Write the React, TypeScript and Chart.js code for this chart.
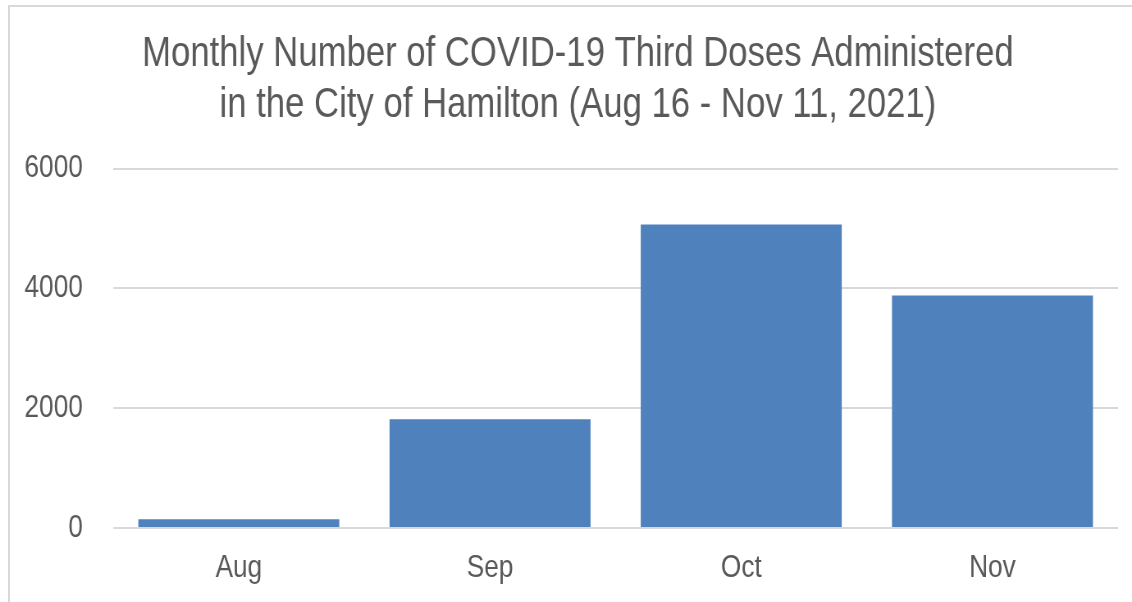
import React, { useEffect, useRef } from "react";
import { Chart, registerables } from "chart.js";

Chart.register(...registerables);

const TITLE_LINES = [
  "Monthly Number of COVID-19 Third Doses Administered",
  "in the City of Hamilton (Aug 16 - Nov 11, 2021)",
];
const MONTHS = ["Aug", "Sep", "Oct", "Nov"];
const DOSES = [145, 1815, 5065, 3880];
const Y_MAX = 6000;
const Y_STEP = 2000;

// Narrow-font emulation: the canvas is drawn wider and shown condensed horizontally
const VIEW_W = 1132;
const VIEW_H = 602;
const NARROW = 0.82;
const CANVAS_W = Math.round(VIEW_W / NARROW);

const FONT = "'Liberation Sans', Arial, sans-serif";
const TEXT = "#595959";
const GRID = "#d9d9d9";
const BAR = "#4f81bd";

export default function App() {
  const ref = useRef<HTMLCanvasElement | null>(null);

  useEffect(() => {
    if (!ref.current) return;
    const k = CANVAS_W / VIEW_W;
    const titleShift = {
      id: "titleShift",
      afterLayout(chart: any) {
        if (chart.titleBlock) chart.titleBlock.left = Math.round(38 * k);
      },
    };
    const chart = new Chart(ref.current, {
      type: "bar",
      data: {
        labels: MONTHS,
        datasets: [
          {
            data: DOSES,
            backgroundColor: BAR,
            borderWidth: 0,
            categoryPercentage: 0.8,
            barPercentage: 1.0,
          },
        ],
      },
      options: {
        responsive: false,
        animation: false,
        devicePixelRatio: 1,
        layout: { padding: { left: 0, right: Math.round(14 * k), top: 0, bottom: 0 } },
        plugins: {
          legend: { display: false },
          tooltip: { enabled: false },
          title: {
            display: true,
            text: TITLE_LINES,
            color: TEXT,
            font: { family: FONT, size: 42.3, weight: "normal", lineHeight: 1.2 },
            padding: { top: 29, bottom: 38 },
          },
        },
        scales: {
          x: {
            grid: { display: false, drawTicks: false },
            border: { display: false },
            ticks: {
              color: TEXT,
              padding: 21,
              font: { family: FONT, size: 32, lineHeight: 1.2 },
            },
            afterFit: (scale: any) => {
              scale.height = 74;
            },
          },
          y: {
            min: 0,
            max: Y_MAX,
            grid: { color: GRID, lineWidth: 2, drawTicks: false },
            border: { display: false },
            ticks: {
              stepSize: Y_STEP,
              color: TEXT,
              padding: Math.round(30 * k),
              font: { family: FONT, size: 32, lineHeight: 1.2 },
              callback: (v: any) => String(v),
            },
            afterFit: (scale: any) => {
              scale.width = Math.round(113 * k);
            },
          },
        },
      },
      plugins: [titleShift],
    });
    return () => chart.destroy();
  }, []);

  return (
    <div
      style={{
        position: "fixed",
        left: 0,
        top: 0,
        width: VIEW_W,
        height: VIEW_H,
        background: "#fff",
        overflow: "hidden",
      }}
    >
      <div
        style={{
          position: "absolute",
          left: 8,
          top: 5,
          width: 1200,
          height: 700,
          borderLeft: `2px solid ${GRID}`,
          borderTop: `2px solid ${GRID}`,
        }}
      />
      <canvas
        ref={ref}
        width={CANVAS_W}
        height={VIEW_H}
        style={{ position: "absolute", left: 0, top: 0, width: VIEW_W, height: VIEW_H }}
      />
    </div>
  );
}
